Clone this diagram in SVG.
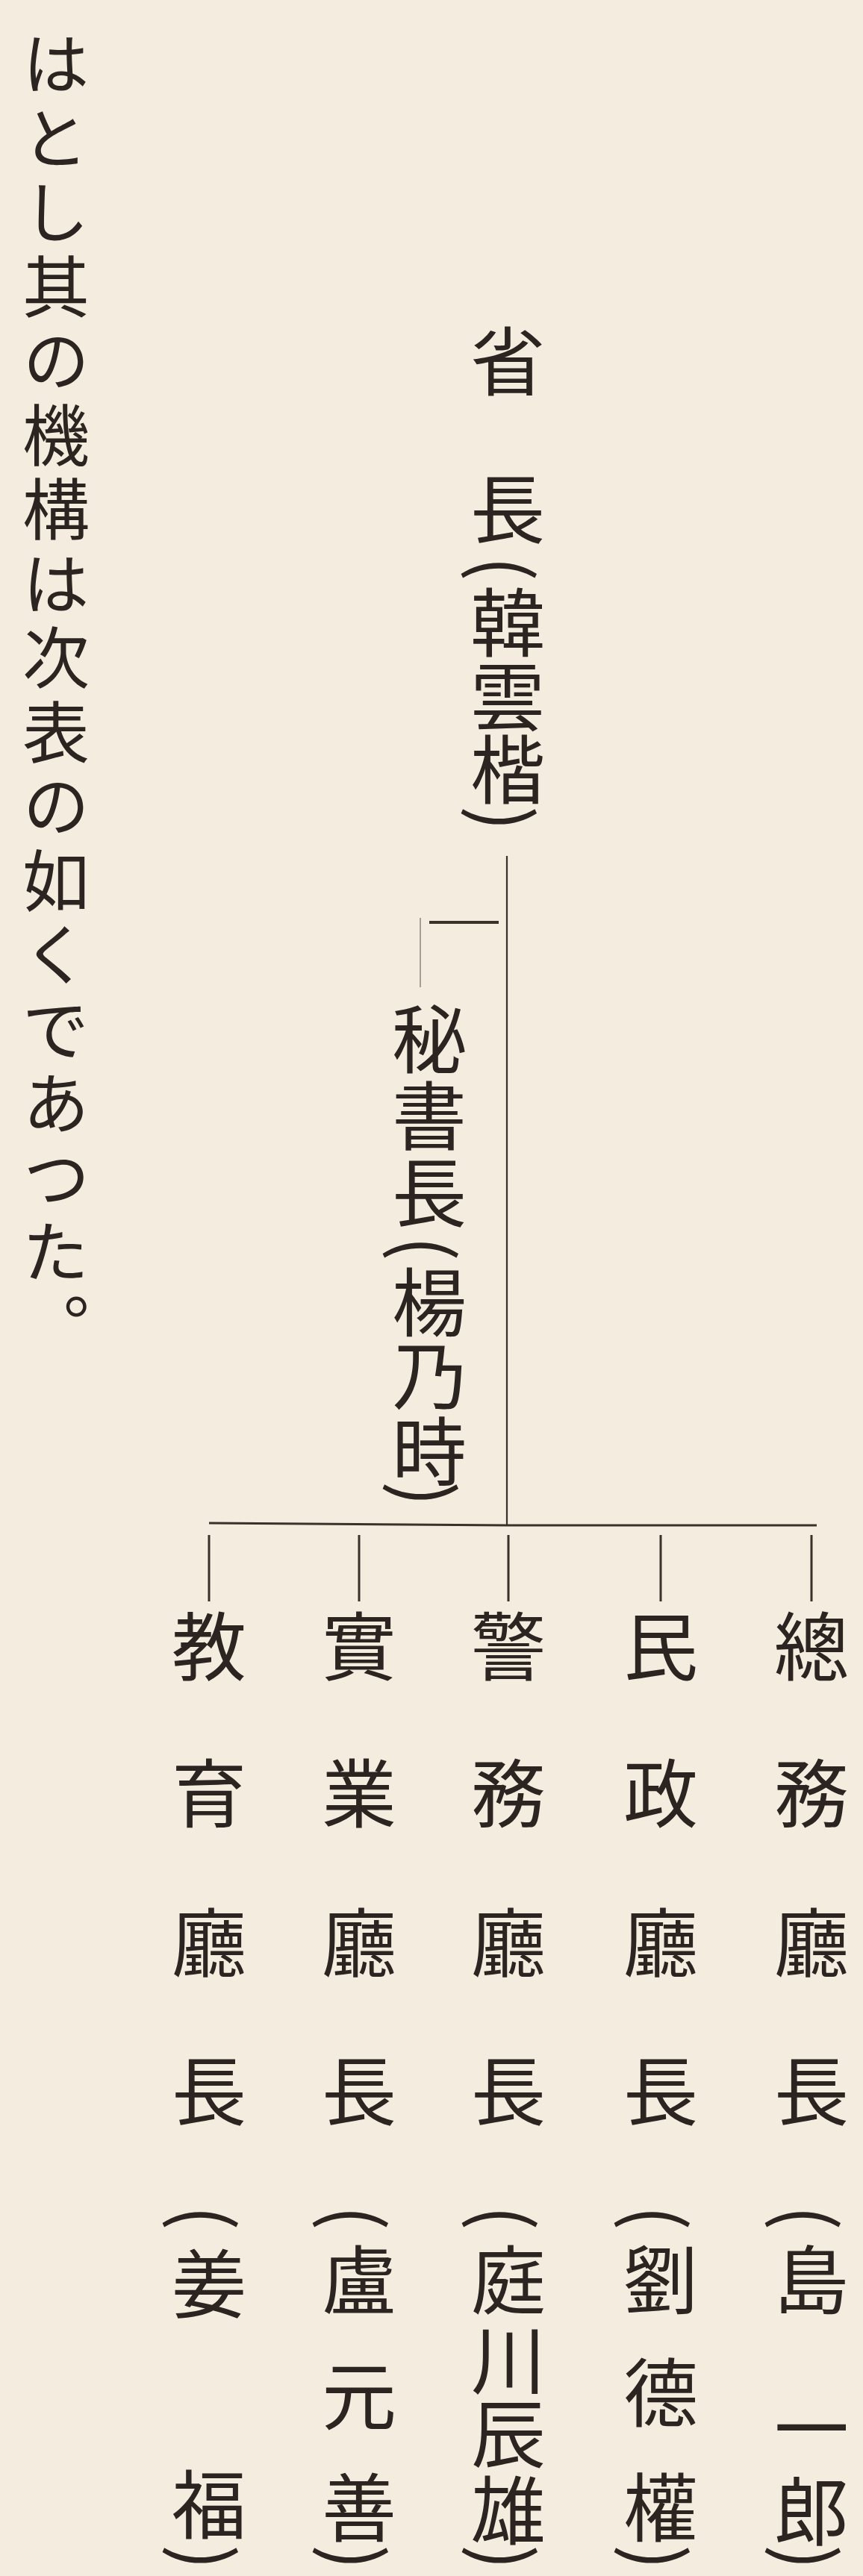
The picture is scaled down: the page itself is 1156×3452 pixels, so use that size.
<svg xmlns="http://www.w3.org/2000/svg" width="1156" height="3452" viewBox="0 0 1156 3452">
  <style>
    .v { writing-mode: vertical-rl; font-family: "Noto Sans CJK JP", "Noto Sans CJK SC", sans-serif; fill: #2b2420; }
    .body { font-size: 90px; }
    .lab { font-size: 100px; }
    .ln { stroke: #3a312b; fill: none; stroke-linecap: butt; }
  </style>
  <rect x="0" y="0" width="1156" height="3452" fill="#f4ecde"/>

  <g id="body-text">
    <text class="v body" x="75" y="40 140 239 339 438 538 637 737 836 936 1035 1135 1234 1334 1433 1533 1632 1732">はとし其の機構は次表の如くであつた。</text>
  </g>

  <g id="connectors">
    <line class="ln" x1="679" y1="1147" x2="679" y2="2045" stroke-width="2.2"/>
    <line class="ln" x1="575" y1="1236" x2="668" y2="1236" stroke-width="4"/>
    <line class="ln" x1="563" y1="1230" x2="563" y2="1323" stroke-width="1.4" opacity="0.6"/>
    <path class="ln" d="M280 2041 L680 2044 L1094 2044" stroke-width="3"/>
    <line class="ln" x1="280" y1="2057" x2="280" y2="2146" stroke-width="3"/>
    <line class="ln" x1="481" y1="2057" x2="481" y2="2146" stroke-width="3"/>
    <line class="ln" x1="681" y1="2057" x2="681" y2="2146" stroke-width="3"/>
    <line class="ln" x1="885" y1="2057" x2="885" y2="2146" stroke-width="3"/>
    <line class="ln" x1="1087" y1="2057" x2="1087" y2="2146" stroke-width="3"/>
  </g>

  <g id="node-shengzhang">
    <text class="v lab" x="680" y="434 632 745 784 883 981 1080">省長(韓雲楷)</text>
  </g>

  <g id="node-mishuzhang">
    <text class="v lab" x="575" y="1342 1445 1548 1656 1695 1793 1895 1985">秘書長(楊乃時)</text>
  </g>

  <g id="node-zongwu">
    <text class="v lab" x="1087" y="2156 2353 2553 2752 2955 3005 3204 3315 3410">總務廳長(島一郎)</text>
  </g>

  <g id="node-minzheng">
    <text class="v lab" x="885" y="2156 2353 2553 2752 2955 3005 3156 3310 3410">民政廳長(劉德權)</text>
  </g>

  <g id="node-jingwu">
    <text class="v lab" x="681" y="2156 2353 2553 2752 2955 3005 3112 3211 3314 3410">警務廳長(庭川辰雄)</text>
  </g>

  <g id="node-shiye">
    <text class="v lab" x="481" y="2156 2353 2553 2752 2955 3005 3160 3310 3410">實業廳長(盧元善)</text>
  </g>

  <g id="node-jiaoyu">
    <text class="v lab" x="280" y="2156 2353 2553 2752 2955 3010 3306 3410">教育廳長(姜福)</text>
  </g>
</svg>
